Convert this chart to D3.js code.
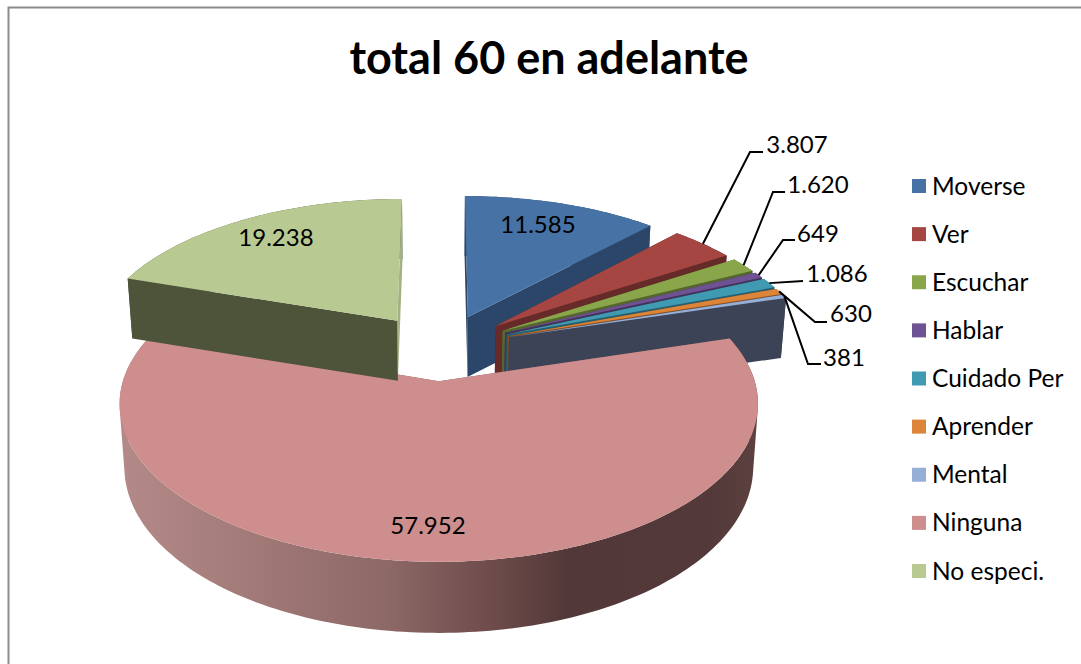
<!DOCTYPE html>
<html><head><meta charset="utf-8">
<script src="https://cdn.jsdelivr.net/npm/d3@7"></script>
<style>html,body{margin:0;padding:0;background:#fff;overflow:hidden}svg{display:block}</style>
</head><body><svg id="c" width="1081" height="664"></svg>
<script>
const titleText = "total 60 en adelante";
const categories = ["Moverse","Ver","Escuchar","Hablar","Cuidado Per","Aprender","Mental","Ninguna","No especi."];
const values = [11585,3807,1620,649,1086,630,381,57952,19238];
const topColors = ["#4672A6","#A54643","#8AA64B","#6F5293","#3F9AB2","#DC8437","#95AFD7","#CE8E8D","#B8CA92"];
const wallColors = ["#2B4668","#662A28","#55662F","#44325A","#275F6E","#874F22","#3C4356","#7F5755","#4E5439"];
// horizontal nudge of each slice on screen
const sliceShift = [0,0,0,0,0,0,0,-3,-6];
// layout of the outside labels: [label centre x, centre y, elbow x, elbow y, elbow end x]
const outsideLabels = {
  1:[797,143,750,152,763], 2:[818,183,773,192,785], 3:[818,232,783,240,795],
  4:[837,272,803,281,803], 5:[851,312,815,322,827], 6:[844,356,808,364,821]
};
const insideLabels = {0:[538,223],7:[428,524],8:[276,236]};

const W=1081,H=664;
const svg=d3.select("#c");
const fmt=d3.formatLocale({decimal:",",thousands:".",grouping:[3],currency:["",""]}).format(",d");
const font="Lato, Carlito, Calibri, sans-serif";

// projection of the pie plane
const cx=443, cy=347, Rx=306, Ry=145.3, k=0.138, explode=0.228, depth=60, nearDepth=9, zShrink=0.985;
function project(X,Y,low,shift){
  const w=1+k*Y;
  let x=cx+Rx*X/w, y=cy-Ry*Y/w;
  if(low){x=cx+(x-cx)*zShrink; y+=depth+nearDepth*Math.max(0,-Y);}
  return [x+(shift||0),y];
}
const pie=d3.pie().sort(null).value(d=>d)(values);
const slices=pie.map((p,i)=>{
  const mid=(p.startAngle+p.endAngle)/2;
  return {i,a0:p.startAngle,a1:p.endAngle,mid,ox:explode*Math.sin(mid),oy:explode*Math.cos(mid),shift:sliceShift[i]};
});
function pt(s,a,r,low){return project(s.ox+r*Math.sin(a),s.oy+r*Math.cos(a),low,s.shift);}
function angles(s){
  const n=Math.max(2,Math.ceil((s.a1-s.a0)/0.02));
  return d3.range(n+1).map(j=>s.a0+(s.a1-s.a0)*j/n);
}
const line=d3.line().curve(d3.curveLinear);
const defs=svg.append("defs");
const grad=defs.append("linearGradient").attr("id","pinkWall").attr("gradientUnits","userSpaceOnUse")
  .attr("x1",120).attr("x2",760).attr("y1",0).attr("y2",0);
[[0,"#B48A88"],[0.18,"#A47C7A"],[0.42,"#8C6866"],[0.58,"#6E4C4B"],[0.70,"#523838"],[0.92,"#533939"],[1,"#5C4140"]]
  .forEach(d=>grad.append("stop").attr("offset",d[0]).attr("stop-color",d[1]));

// plot frame
svg.append("path").attr("d",`M${W+5},7.5H8.5V${H+5}`).attr("fill","none").attr("stroke","#8c8c8c").attr("stroke-width",2);

const g=svg.append("g");
slices.forEach(s=>{
  const c=s.i;
  const apex=pt(s,0,0), apexL=pt(s,0,0,true);
  const as=angles(s);
  const wallFill=c===7?"url(#pinkWall)":wallColors[c];
  // outer wall: union of equally wound strips, filled as one shape
  const strips=d3.pairs(as).map(([a,b])=>{
    const q=[pt(s,a,1),pt(s,b,1),pt(s,b,1,true),pt(s,a,1,true)];
    if(d3.polygonArea(q)<0)q.reverse();
    return line(q)+"Z";
  }).join("");
  g.append("path").attr("d",strips).attr("fill",wallFill).attr("fill-rule","nonzero");
  // radial walls
  const wall=(a,fill)=>g.append("path").attr("d",line([apex,pt(s,a,1),pt(s,a,1,true),apexL])+"Z").attr("fill",fill);
  wall(s.a1,c===8?"#A3B283":wallColors[c]);
  wall(s.a0,wallColors[c]);
  // top face
  g.append("path").attr("d",line([apex].concat(as.map(a=>pt(s,a,1))))+"Z").attr("fill",topColors[c]);
});

// leader lines and labels
Object.keys(outsideLabels).forEach(key=>{
  const i=+key, l=outsideLabels[key], s=slices[i];
  const a=pt(s,s.mid,1);
  svg.append("path").attr("d",line([a,[l[2],l[3]],[l[4],l[3]]])).attr("fill","none").attr("stroke","#000").attr("stroke-width",2);
  svg.append("text").attr("x",l[0]).attr("y",l[1]).attr("text-anchor","middle").attr("dominant-baseline","central")
    .attr("font-family",font).attr("font-size",24).attr("fill","#000").text(fmt(values[i]));
});
Object.keys(insideLabels).forEach(key=>{
  const i=+key,l=insideLabels[key];
  svg.append("text").attr("x",l[0]).attr("y",l[1]).attr("text-anchor","middle").attr("dominant-baseline","central")
    .attr("font-family",font).attr("font-size",24).attr("fill","#000").text(fmt(values[i]));
});

// title
svg.append("text").attr("x",549).attr("y",74).attr("text-anchor","middle")
  .attr("font-family",font).attr("font-weight",700).attr("font-size",45).attr("fill","#000").text(titleText);

// legend
const legendY=d3.scalePoint().domain(categories).range([185,570]);
const lg=svg.append("g").selectAll("g").data(categories).join("g");
lg.append("rect").attr("x",912).attr("y",d=>legendY(d)-6).attr("width",14).attr("height",14).attr("fill",(d,i)=>topColors[i]);
lg.append("text").attr("x",932).attr("y",d=>legendY(d)).attr("dominant-baseline","central")
  .attr("font-family",font).attr("font-size",24.5).attr("fill","#000").text(d=>d);
</script></body></html>
